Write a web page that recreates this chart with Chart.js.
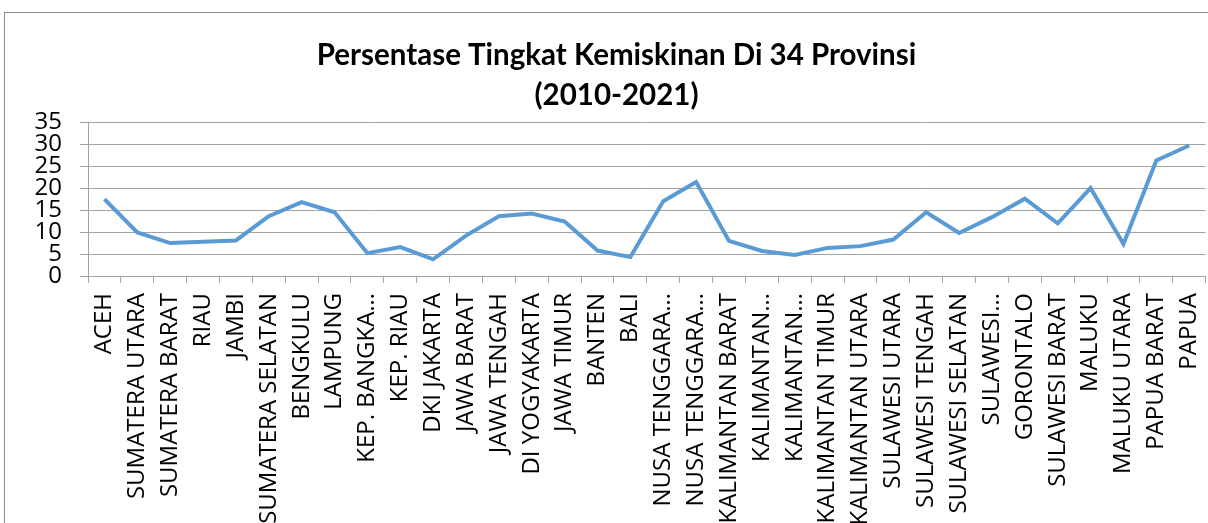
<!DOCTYPE html>
<html>
<head>
<meta charset="utf-8">
<script src="https://cdn.jsdelivr.net/npm/chart.js@4"></script>
<style>
    html, body { margin: 0; padding: 0; background: #fff; overflow: hidden; }
    #frame {
        position: absolute; left: 4px; top: 12px;
        width: 1232px; height: 540px;
        border: 1px solid #898989;
    }
</style>
</head>
<body>
<div id="frame"><canvas id="myChart" width="1223" height="530"></canvas></div>
<script>
// Provinces (x axis categories)
const provinces = [
    'ACEH', 'SUMATERA UTARA', 'SUMATERA BARAT', 'RIAU', 'JAMBI', 'SUMATERA SELATAN',
    'BENGKULU', 'LAMPUNG', 'KEP. BANGKA BELITUNG', 'KEP. RIAU', 'DKI JAKARTA',
    'JAWA BARAT', 'JAWA TENGAH', 'DI YOGYAKARTA', 'JAWA TIMUR', 'BANTEN', 'BALI',
    'NUSA TENGGARA BARAT', 'NUSA TENGGARA TIMUR', 'KALIMANTAN BARAT', 'KALIMANTAN TENGAH',
    'KALIMANTAN SELATAN', 'KALIMANTAN TIMUR', 'KALIMANTAN UTARA', 'SULAWESI UTARA',
    'SULAWESI TENGAH', 'SULAWESI SELATAN', 'SULAWESI TENGGARA', 'GORONTALO',
    'SULAWESI BARAT', 'MALUKU', 'MALUKU UTARA', 'PAPUA BARAT', 'PAPUA'
];

// Poverty rate (%)
const povertyRate = [
    17.5, 9.9, 7.5, 7.8, 8.1, 13.6,
    16.8, 14.5, 5.2, 6.6, 3.8,
    9.2, 13.6, 14.2, 12.4, 5.8, 4.3,
    17.0, 21.4, 8.0, 5.7,
    4.8, 6.4, 6.8, 8.3,
    14.5, 9.8, 13.4, 17.6,
    12.0, 20.0, 7.3, 26.3, 29.7
];

// y axis ticks
const yTicks = [0, 5, 10, 15, 20, 25, 30, 35];

const gridGray = '#a3a3a3';
const labelFont = "'Open Sans', sans-serif";

// long names get cut like the spreadsheet does
function shortLabel(s) {
    return s.length > 16 ? s.slice(0, s.lastIndexOf(' ')) + '…' : s;
}

const ctx = document.getElementById('myChart').getContext('2d');
const myChart = new Chart(ctx, {
    type: 'line',
    data: {
        labels: provinces,
        datasets: [{
            label: 'Persentase',
            data: povertyRate,
            borderColor: '#5b9bd5',
            borderWidth: 4,
            pointRadius: 0,
            tension: 0,
            fill: false
        }]
    },
    options: {
        responsive: false,
        animation: false,
        devicePixelRatio: 1,
        layout: {
            padding: { left: 0, right: 0, top: 0, bottom: 0 }
        },
        plugins: {
            legend: { display: false },
            tooltip: { enabled: false },
            title: {
                display: true,
                text: ['Persentase Tingkat Kemiskinan Di 34 Provinsi', '(2010-2021)'],
                color: '#000',
                font: { family: "'Lato', sans-serif", size: 29.5, weight: 'bold', lineHeight: 1.36 },
                padding: { top: 22, bottom: 7 }
            }
        },
        scales: {
            x: {
                offset: true,
                afterFit: axis => { axis.height = 267; },
                grid: {
                    offset: true,
                    drawOnChartArea: false,
                    drawTicks: true,
                    tickLength: 7,
                    color: gridGray
                },
                border: { color: gridGray },
                ticks: {
                    autoSkip: false,
                    minRotation: 90,
                    maxRotation: 90,
                    padding: 10,
                    color: '#000',
                    font: { family: labelFont, size: 24 },
                    callback: function (val) {
                        return shortLabel(this.getLabelForValue(val));
                    }
                }
            },
            y: {
                min: yTicks[0],
                max: yTicks[yTicks.length - 1],
                afterBuildTicks: axis => {
                    axis.ticks = yTicks.map(v => ({ value: v }));
                },
                afterFit: axis => { axis.width = 83; },
                grid: {
                    color: gridGray,
                    tickLength: 8
                },
                border: { color: gridGray },
                ticks: {
                    autoSkip: false,
                    padding: 18,
                    color: '#000',
                    font: { family: labelFont, size: 24, lineHeight: 1 }
                }
            }
        }
    }
});
</script>
</body>
</html>
